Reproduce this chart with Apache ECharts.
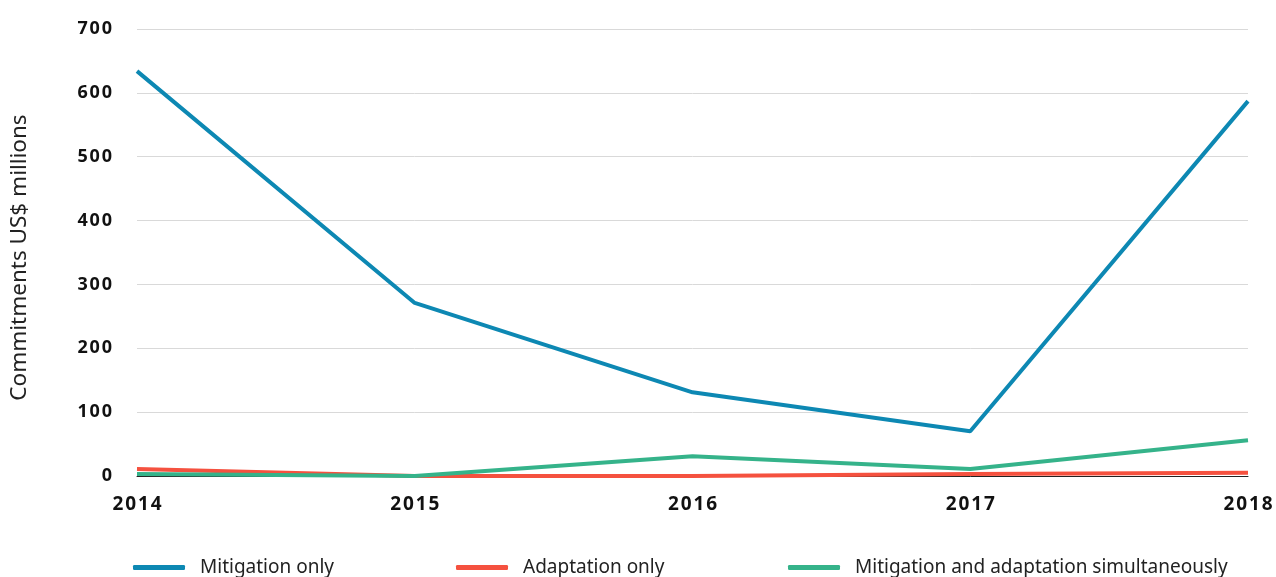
<!DOCTYPE html>
<html><head><meta charset="utf-8">
<script src="https://cdn.jsdelivr.net/npm/echarts@6/dist/echarts.min.js"></script>
<style>html,body{margin:0;padding:0;background:#fff}#c{width:1276px;height:577px}</style>
</head><body><div id="c"></div>
<script>
const years = ['2014','2015','2016','2017','2018'];
const mitigationOnly = [634, 271, 131, 70, 587];
const adaptationOnly = [11, 0, 0, 3, 5];
const both = [3, 0, 31, 11, 56];
const yTicks = [0, 100, 200, 300, 400, 500, 600, 700];

const chart = echarts.init(document.getElementById('c'));
const font = '"Noto Sans", "Open Sans", sans-serif';
function legendAt(name, left){
  return {data:[name], left:left, top:558, padding:0, itemWidth:52, itemHeight:5, itemGap:0,
    icon:'roundRect', textStyle:{fontFamily:font, fontSize:19, color:'#222', padding:[0,0,0,10]}, selectedMode:false};
}
chart.setOption({
  animation:false,
  grid:{left:135, right:28, top:29, bottom:101},
  legend:[legendAt('Mitigation only',133), legendAt('Adaptation only',456), legendAt('Mitigation and adaptation simultaneously',788)],
  xAxis:{type:'category', data:years, boundaryGap:false,
    axisLine:{show:true, lineStyle:{color:'#222', width:1}}, axisTick:{show:false},
    axisLabel:{fontFamily:font, fontSize:19, fontWeight:'bold', color:'#111', margin:19,
      formatter:v=>v.split('').join('\u200A')}},
  yAxis:{type:'value', min:0, max:700, interval:100,
    name:'Commitments US$ millions', nameLocation:'middle', nameGap:106,
    nameTextStyle:{fontFamily:font, fontSize:22.5, color:'#222', padding:[0,10,0,0]},
    axisLine:{show:false}, axisTick:{show:false},
    splitLine:{lineStyle:{color:'#d9d9d9', width:1}},
    axisLabel:{fontFamily:font, fontSize:18, fontWeight:'bold', color:'#111', margin:25,
      formatter:v=>yTicks.includes(v)?String(v).split('').join('\u200A'):''}},
  series:[
    {name:'Mitigation only', type:'line', data:mitigationOnly, symbol:'none', z:3,
      lineStyle:{color:'#0d88b3', width:4}, itemStyle:{color:'#0d88b3'}},
    {name:'Adaptation only', type:'line', data:adaptationOnly, symbol:'none', z:2,
      lineStyle:{color:'#f5513f', width:4}, itemStyle:{color:'#f5513f'}},
    {name:'Mitigation and adaptation simultaneously', type:'line', data:both, symbol:'none', z:4,
      lineStyle:{color:'#35b38a', width:4}, itemStyle:{color:'#35b38a'}}
  ]
});
</script></body></html>
